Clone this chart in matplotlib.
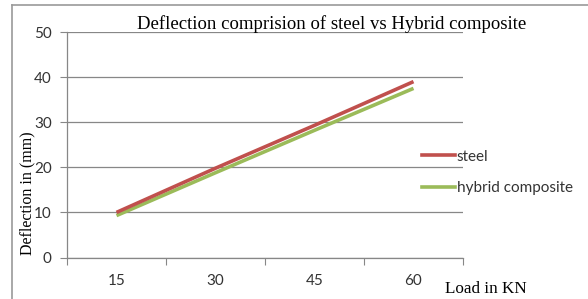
import matplotlib.pyplot as plt
from matplotlib.lines import Line2D

loads = ['15', '30', '45', '60']
steel = [10, 19.8, 29.3, 39]
hybrid = [9.3, 18.8, 28.2, 37.5]
yticks = [0, 10, 20, 30, 40, 50]

W, H = 588, 299
fig = plt.figure(figsize=(W / 100, H / 100), dpi=100)
ax = fig.add_axes([67 / W, 1 - 257.5 / H, 396 / W, 225.5 / H])

x = range(len(loads))
ax.plot(x, steel, color='#c0504d', lw=2.6, solid_capstyle='butt', zorder=3)
ax.plot(x, hybrid, color='#9bbb59', lw=2.6, solid_capstyle='butt', zorder=2)

ax.set_xlim(-0.5, 3.5)
ax.set_ylim(0, 50)
ax.set_yticks(yticks)
ax.yaxis.grid(True, color='#878787', lw=0.9)
ax.set_axisbelow(True)
ax.set_xticks([i - 0.5 for i in range(5)], minor=False)
ax.set_xticklabels([])
ax.set_xticks(list(x), minor=True)
ax.set_xticklabels(loads, minor=True)
ax.tick_params(axis='x', which='minor', length=0, pad=12)
ax.tick_params(axis='x', which='major', length=5, color='#878787', direction='out')
ax.tick_params(axis='y', length=5, color='#878787', pad=6)
for lab in ax.get_xticklabels(minor=True) + ax.get_yticklabels():
    lab.set_fontfamily('Lato')
    lab.set_fontsize(11)
    lab.set_color('#333333')
for s in ['top', 'right']:
    ax.spines[s].set_visible(False)
for s in ['left', 'bottom']:
    ax.spines[s].set_color('#878787')
    ax.spines[s].set_linewidth(0.9)

fig.text(332 / W, 1 - 24 / H, 'Deflection comprision of steel vs Hybrid composite',
         family='Liberation Serif', fontsize=13.5, ha='center', va='center')
fig.text(27 / W, 1 - 193 / H, 'Deflection in (mm)', family='Liberation Serif',
         fontsize=11.5, rotation=90, ha='center', va='center')
fig.text(486 / W, 1 - 289 / H, 'Load in KN', family='Liberation Serif',
         fontsize=12.3, ha='center', va='center')

# legend
handles = [Line2D([], [], color='#c0504d', lw=2.6), Line2D([], [], color='#9bbb59', lw=2.6)]
leg = fig.legend(handles, ['steel', 'hybrid composite'], loc='upper left',
                 bbox_to_anchor=(408 / W, 1 - 136 / H), frameon=False,
                 handlelength=2.2, handletextpad=0.1, labelspacing=1.15,
                 prop={'family': 'Lato', 'size': 11})
for t in leg.get_texts():
    t.set_color('#333333')

# outer border (left and top)
fig.add_artist(Line2D([12 / W, 12 / W], [0, 1 - 5 / H], color='#999999', lw=1.2))
fig.add_artist(Line2D([12 / W, 1], [1 - 5 / H, 1 - 5 / H], color='#999999', lw=1.2))

fig.savefig('out.png', dpi=100)
